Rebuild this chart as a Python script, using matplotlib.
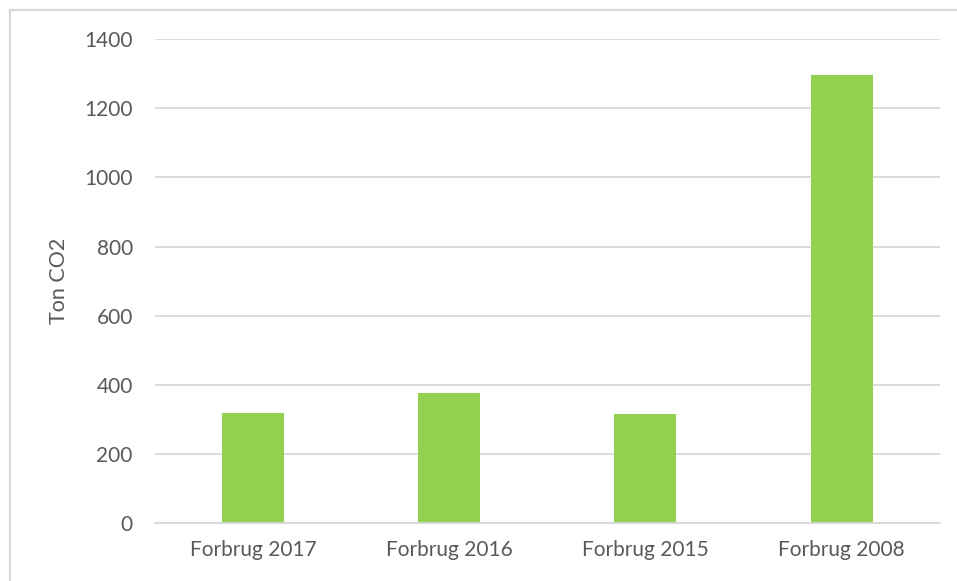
#!/usr/bin/env python3
import matplotlib
matplotlib.use('Agg')
import matplotlib.pyplot as plt
from matplotlib.lines import Line2D


categories = ['Forbrug 2017', 'Forbrug 2016', 'Forbrug 2015', 'Forbrug 2008']
values = [319, 376, 316, 1295]
yticks = [0, 200, 400, 600, 800, 1000, 1200, 1400]

BAR = '#92d050'
GRID = '#d9d9d9'
TEXT = '#595959'


def main():
    plt.rcParams['font.family'] = ['Lato', 'DejaVu Sans']
    fig = plt.figure(figsize=(9.57, 5.81), dpi=100)
    ax = fig.add_axes([0.162, 0.099, 0.820, 0.834])

    x = list(range(len(categories)))
    ax.bar(x, values, width=0.316, color=BAR, zorder=2)

    ax.set_xlim(-0.5, len(categories) - 0.5)
    ax.set_ylim(0, 1400)
    ax.set_yticks(yticks)
    ax.set_xticks(x)
    ax.set_xticklabels(categories)
    ax.tick_params(axis='both', length=0, labelsize=15, colors=TEXT)
    ax.tick_params(axis='x', pad=12)
    ax.tick_params(axis='y', pad=16)
    ax.set_ylabel('Ton CO2', fontsize=15.5, color=TEXT, labelpad=11)

    ax.grid(axis='y', color=GRID, linewidth=1.3)
    ax.set_axisbelow(True)
    for s in ['top', 'right', 'left']:
        ax.spines[s].set_visible(False)
    ax.spines['bottom'].set_color(GRID)
    ax.spines['bottom'].set_linewidth(1.3)

    # outer chart frame (only top and left edges visible in the source)
    fig.add_artist(Line2D([9.5 / 957, 1], [1 - 10 / 581, 1 - 10 / 581],
                          transform=fig.transFigure, color=GRID, linewidth=1.6))
    fig.add_artist(Line2D([9.5 / 957, 9.5 / 957], [0, 1 - 10 / 581],
                          transform=fig.transFigure, color=GRID, linewidth=1.6))

    fig.savefig('out.png', dpi=100)


if __name__ == '__main__':
    main()
